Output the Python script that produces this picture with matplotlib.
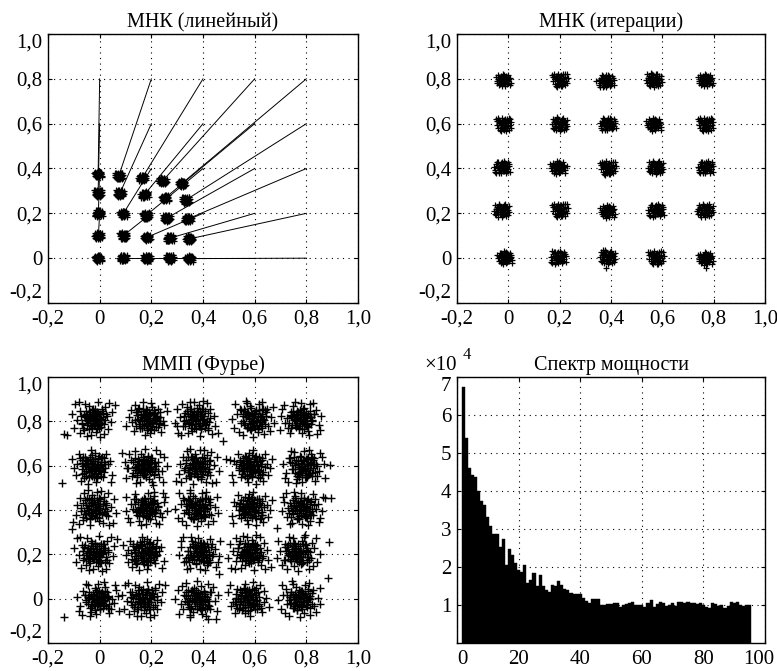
import matplotlib
matplotlib.use('Agg')
import matplotlib.pyplot as plt
from matplotlib.transforms import ScaledTranslation

plt.rcParams['font.family'] = ['Liberation Serif', 'DejaVu Serif']
plt.rcParams['font.size'] = 15

# --- data -----------------------------------------------------------------

TITLES = ['МНК (линейный)', 'МНК (итерации)', 'ММП (Фурье)', 'Спектр мощности']

GRID_TICKS = [-0.2, 0, 0.2, 0.4, 0.6, 0.8, 1.0]
GRID_LABELS = ['-0,2', '0', '0,2', '0,4', '0,6', '0,8', '1,0']

# true constellation points
TRUE_X = [0.0, 0.2, 0.4, 0.6, 0.8]
TRUE_Y = [0.0, 0.2, 0.4, 0.6, 0.8]

# cluster centres, rows = true y level (0 .. 0.8), columns = true x level
P1_X = [[-0.006, 0.091, 0.183, 0.271, 0.347],
        [-0.005, 0.091, 0.183, 0.271, 0.347],
        [-0.005, 0.091, 0.179, 0.260, 0.341],
        [-0.006, 0.078, 0.173, 0.253, 0.333],
        [-0.006, 0.074, 0.164, 0.244, 0.318]]
P1_Y = [[0.000, 0.000, 0.000, 0.000, -0.002],
        [0.100, 0.100, 0.093, 0.089, 0.086],
        [0.200, 0.198, 0.190, 0.179, 0.175],
        [0.290, 0.289, 0.283, 0.268, 0.259],
        [0.375, 0.367, 0.357, 0.345, 0.333]]

P2_X = [[-0.013, 0.194, 0.387, 0.574, 0.768],
        [-0.026, 0.200, 0.387, 0.574, 0.768],
        [-0.026, 0.194, 0.387, 0.574, 0.768],
        [-0.019, 0.200, 0.387, 0.568, 0.768],
        [-0.019, 0.200, 0.381, 0.568, 0.768]]
P2_Y = [[0.003, 0.003, 0.005, 0.003, 0.000],
        [0.213, 0.215, 0.210, 0.213, 0.213],
        [0.405, 0.405, 0.403, 0.405, 0.405],
        [0.598, 0.598, 0.598, 0.598, 0.598],
        [0.795, 0.795, 0.790, 0.795, 0.795]]
P2_EXTRA_X = [0.38, 0.77, 0.37, -0.03, 0.17, 0.74, 0.34, 0.23]
P2_EXTRA_Y = [-0.045, -0.045, 0.035, 0.025, 0.03, 0.22, 0.79, 0.41]

P3_X = [[-0.009, 0.171, 0.376, 0.575, 0.774],
        [-0.015, 0.171, 0.383, 0.582, 0.768],
        [-0.022, 0.184, 0.376, 0.588, 0.781],
        [-0.028, 0.177, 0.376, 0.588, 0.787],
        [-0.022, 0.184, 0.376, 0.595, 0.781]]
P3_Y = [[-0.003, -0.003, -0.003, -0.003, -0.003],
        [0.206, 0.206, 0.206, 0.206, 0.206],
        [0.408, 0.408, 0.408, 0.408, 0.408],
        [0.595, 0.595, 0.595, 0.595, 0.595],
        [0.812, 0.812, 0.812, 0.812, 0.812]]
P3_EXTRA_X = [-0.137, -0.125, -0.144, -0.137, -0.109, 0.890, 0.887, 0.883,
              0.479, 0.490, 0.460, 0.420, 0.450, 0.687, 0.087, 0.896, 0.871,
              0.505, 0.300, 0.110]
P3_EXTRA_Y = [0.745, 0.738, 0.523, -0.082, 0.316, 0.603, 0.256, 0.094,
              0.710, 0.630, 0.110, -0.090, -0.090, 0.320, 0.655, 0.453, 0.453,
              0.625, 0.780, 0.590]

# hand-read jitter patterns of the clouds (unit spread)
OFFS_A = [(0.1, 0.3), (-0.8, 1.2), (1.4, -0.2), (-1.1, -0.9), (0.5, -1.5), (1.9, 0.8), (-1.7, 0.4), (0.3, 1.8),
          (-0.4, -0.3), (1.0, 1.1), (-1.3, -1.8), (0.8, -0.6), (-0.2, 2.1), (2.2, -1.0), (-2.0, -0.2), (0.6, 0.4),
          (-0.6, 0.7), (1.5, 1.7), (-0.9, -1.4), (0.2, -0.9), (-1.5, 1.6), (1.2, -1.3), (0.0, 0.0), (-0.3, 1.0),
          (0.9, 0.2), (-1.0, 0.1), (0.4, -2.0), (1.7, 0.3), (-0.7, -0.6), (-2.3, 1.0), (0.7, 1.4), (-0.1, -1.2),
          (1.1, -0.1), (-1.2, 0.9), (0.3, 0.7), (2.0, -1.9), (-0.5, -2.2), (1.3, 0.6), (-1.8, -1.1), (0.0, 1.5)]
OFFS_B = [(-0.2, -0.1), (1.1, 0.9), (-1.4, 0.6), (0.6, -1.1), (-0.7, -1.6), (1.8, -0.5), (-0.3, 1.4), (2.1, 1.2),
          (-1.9, -0.8), (0.4, 0.2), (-1.0, 1.9), (1.3, -1.8), (0.9, 1.6), (-0.5, 0.4), (-2.2, 0.3), (0.2, -0.5),
          (1.6, 0.1), (-1.2, -0.3), (0.7, 2.2), (-0.8, -2.1), (0.0, 0.9), (1.0, -0.8), (-1.6, 1.1), (2.3, 0.4),
          (-0.1, -1.9), (0.5, 1.0), (-0.6, -0.9), (1.5, -1.2), (-1.3, 2.0), (0.8, 0.5), (-2.0, -1.5), (0.3, -1.3),
          (1.9, 1.8), (-0.9, 0.2), (0.1, 2.0), (1.2, 0.3), (-0.4, -0.7), (-1.7, -2.0), (0.6, -0.2), (2.4, -1.5)]
OFFS_C = [(0.4, -0.2), (-1.0, -0.5), (0.9, 1.3), (-0.3, -1.4), (1.6, -0.9), (-1.5, 1.3), (0.2, 0.6), (-0.7, 2.0),
          (2.0, 0.2), (-2.1, -1.2), (1.2, -2.0), (-0.5, 0.1), (0.6, 1.9), (-1.2, -2.1), (1.4, 0.8), (-0.1, -0.6),
          (-1.8, 0.6), (0.8, -1.0), (2.2, 1.5), (-0.9, 1.0), (0.0, -2.3), (1.1, 0.0), (-0.4, 1.6), (-2.4, -0.1),
          (0.5, -1.7), (1.8, -1.6), (-1.1, 0.3), (0.3, 1.1), (-0.6, -1.1), (1.0, 2.1), (-1.6, -1.7), (0.7, 0.3),
          (-0.2, 0.3), (1.5, 1.2), (-1.4, -0.6), (0.1, -1.0), (2.3, -0.6), (-0.8, 2.3), (0.9, -0.4), (-2.0, 1.9)]
OFFS_D = [(-0.1, 0.5), (0.7, -0.3), (-1.2, 1.5), (1.5, 1.0), (-0.6, -1.2), (0.3, -2.1), (-2.0, 0.9), (1.1, -1.5),
          (-0.8, 0.0), (0.5, 1.6), (1.9, -0.2), (-1.5, -1.3), (0.0, -0.8), (-0.4, 2.2), (2.1, 1.9), (-1.1, -2.0),
          (0.9, 0.6), (-1.9, -0.4), (1.3, -0.7), (-0.3, 0.9), (0.6, -1.3), (-2.3, 1.8), (1.7, 2.1), (0.2, 0.1),
          (-0.9, 1.2), (1.0, 1.9), (-0.2, -1.7), (2.2, -1.2), (-1.4, 0.4), (0.4, -0.5), (-0.7, -2.3), (1.4, 0.3),
          (-1.7, 2.0), (0.8, -2.2), (-0.5, -0.4), (0.1, 1.3), (1.6, -1.9), (-1.0, 0.7), (2.4, 0.6), (-0.3, -1.0)]
OFFSETS = [OFFS_A, OFFS_B, OFFS_C, OFFS_D]

# which patterns make up each cloud (row by row) and their mirroring
P12_PICK = [0, 1, 2, 3, 0,
            2, 3, 0, 1, 2,
            1, 0, 3, 2, 1,
            3, 2, 1, 0, 3,
            0, 3, 1, 2, 0]
P3_PICK = [(0, 1), (2, 3), (1, 2), (3, 0), (0, 2),
           (1, 3), (2, 0), (3, 1), (0, 3), (1, 2),
           (2, 3), (0, 1), (3, 2), (1, 0), (2, 1),
           (3, 0), (0, 2), (1, 3), (2, 0), (3, 1),
           (0, 3), (1, 0), (2, 3), (3, 2), (0, 1)]
P3_FLIP = [(1, 1), (-1, 1), (1, -1), (-1, -1), (1, 1),
           (-1, 1), (1, 1), (1, -1), (-1, -1), (-1, 1),
           (1, -1), (-1, -1), (1, 1), (-1, 1), (1, -1),
           (1, 1), (-1, -1), (1, -1), (-1, 1), (1, 1),
           (-1, 1), (1, -1), (-1, -1), (1, 1), (-1, 1)]

# power spectrum, units of 1e4, bins 2..95
SPEC_BINS = list(range(2, 96))
SPECTRUM = [6.74, 5.39, 4.60, 4.41, 4.36, 4.01, 3.73, 3.64, 3.32, 3.08,
            2.86, 2.88, 2.53, 2.74, 2.05, 2.47, 2.32, 2.10, 1.91, 1.88,
            2.05, 1.57, 1.66, 1.84, 1.49, 1.79, 1.49, 1.40, 1.33, 1.53,
            1.49, 1.64, 1.53, 1.41, 1.39, 1.32, 1.30, 1.30, 1.30, 1.18,
            1.10, 1.05, 1.15, 1.15, 1.15, 1.01, 1.01, 1.02, 1.02, 1.05,
            1.05, 0.95, 1.01, 1.03, 1.04, 1.08, 1.00, 1.01, 1.01, 0.95,
            1.05, 1.12, 0.96, 1.03, 1.08, 1.04, 0.98, 1.00, 1.04, 0.98,
            1.08, 1.08, 1.05, 1.08, 1.05, 1.05, 1.02, 1.05, 0.99, 0.95,
            0.91, 1.04, 1.02, 0.97, 0.99, 0.92, 0.97, 1.08, 1.05, 1.08,
            0.99, 0.98, 1.00, 1.00]
SPEC_XTICKS = [0, 20, 40, 60, 80, 100]
SPEC_YTICKS = [1, 2, 3, 4, 5, 6, 7]

# --- drawing ----------------------------------------------------------------

W, H = 777, 671
TITLE_SIZE = 14.5
fig = plt.figure(figsize=(W / 100, H / 100), dpi=100)


def px_axes(l, t, r, b):
    return fig.add_axes([l / W, 1 - b / H, (r - l) / W, (b - t) / H])


def style(ax):
    ax.grid(True, color='black', linestyle=(0, (1, 4)), linewidth=0.8)
    ax.set_axisbelow(True)
    for s in ax.spines.values():
        s.set_linewidth(1.0)
    ax.tick_params(direction='in', length=3, width=0.8, top=True, right=True)
    ax.tick_params(axis='x', pad=5)
    ax.tick_params(axis='y', pad=4)


def grid_axes(ax):
    ax.set_xlim(-0.2, 1.0)
    ax.set_ylim(-0.2, 1.0)
    ax.set_xticks(GRID_TICKS)
    ax.set_xticklabels(GRID_LABELS)
    ax.set_yticks(GRID_TICKS)
    ax.set_yticklabels(GRID_LABELS)
    ylabs = ax.get_yticklabels()
    ylabs[0].set_va('bottom')
    ylabs[-1].set_va('top')
    style(ax)


def cloud(cx, cy, pats, scales, flip=(1, 1)):
    xs, ys = [], []
    for p, sc in zip(pats, scales):
        for dx, dy in OFFSETS[p]:
            xs.append(cx + flip[0] * dx * sc)
            ys.append(cy + flip[1] * dy * sc)
    return xs, ys


def scatter_panel(ax, cx, cy, scales, pick, flips=None, ms=5, mew=0.9):
    for j in range(5):
        for i in range(5):
            k = j * 5 + i
            p = pick[k] if isinstance(pick[k], tuple) else (pick[k],)
            f = flips[k] if flips else (1, 1)
            xs, ys = cloud(cx[j][i], cy[j][i], p, scales, f)
            ax.plot(xs, ys, '+', color='black', ms=ms, mew=mew)


ax1 = px_axes(48, 34, 358, 303)
for j in range(5):
    for i in range(5):
        ax1.plot([P1_X[j][i], TRUE_X[i]], [P1_Y[j][i], TRUE_Y[j]], color='black', lw=0.7)
scatter_panel(ax1, P1_X, P1_Y, (0.0068,), P12_PICK, ms=5)
grid_axes(ax1)
ax1.set_title(TITLES[0], pad=5, fontsize=TITLE_SIZE)

ax2 = px_axes(457, 34, 765, 303)
scatter_panel(ax2, P2_X, P2_Y, (0.013,), P12_PICK, ms=5)
ax2.plot(P2_EXTRA_X, P2_EXTRA_Y, '+', color='black', ms=5, mew=0.9)
grid_axes(ax2)
ax2.set_title(TITLES[1], pad=5, fontsize=TITLE_SIZE)

ax3 = px_axes(48, 377, 358, 643)
scatter_panel(ax3, P3_X, P3_Y, (0.021, 0.035), P3_PICK, P3_FLIP, ms=5.5, mew=1.0)
ax3.plot(P3_EXTRA_X, P3_EXTRA_Y, '+', color='black', ms=5.5, mew=1.0)
grid_axes(ax3)
ax3.set_title(TITLES[2], pad=5, fontsize=TITLE_SIZE)

ax4 = px_axes(457, 377, 765, 643)
ax4.bar(SPEC_BINS, SPECTRUM, width=1.0, color='black', edgecolor='black', linewidth=0.3)
ax4.set_xlim(0, 100)
ax4.set_ylim(0, 7)
ax4.set_xticks(SPEC_XTICKS)
ax4.set_yticks(SPEC_YTICKS)
style(ax4)
ax4.get_yticklabels()[-1].set_va('top')
ax4.get_xticklabels()[0].set_ha('left')
last = ax4.get_xticklabels()[-1]
last.set_transform(last.get_transform() + ScaledTranslation(-6 / 100, 0, fig.dpi_scale_trans))
ax4.set_title(TITLES[3], pad=5, fontsize=TITLE_SIZE)
fig.text(424 / W, 1 - 366 / H, '×10', ha='left', va='center', fontsize=15)
fig.text(463 / W, 1 - 355 / H, '4', ha='left', va='center', fontsize=12)

fig.savefig('out.png', dpi=100)
